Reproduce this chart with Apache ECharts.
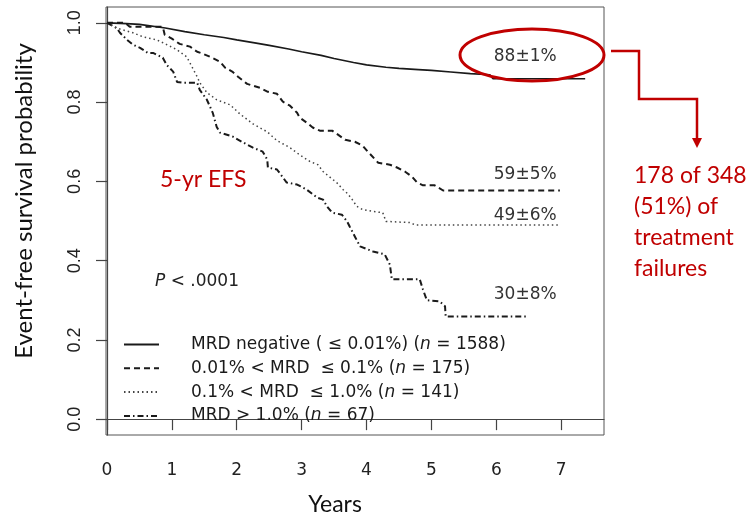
<!DOCTYPE html>
<html>
<head>
<meta charset="utf-8">
<script src="https://cdn.jsdelivr.net/npm/echarts@6/dist/echarts.min.js"></script>
<style>
  html, body { margin: 0; padding: 0; background: #ffffff; }
  #chart { width: 750px; height: 516px; }
</style>
</head>
<body>
<div id="chart"></div>
<script>
// Kaplan-Meier event-free survival by end-of-induction MRD group

const groupNames  = ['MRD negative', '0.01-0.1%', '0.1-1.0%', 'MRD >1.0%'];
const groupRanges = ['MRD negative ( \u2264 0.01%)', '0.01% < MRD  \u2264 0.1%', '0.1% < MRD  \u2264 1.0%', 'MRD > 1.0%'];
const groupN      = [1588, 175, 141, 67];

// 5-year EFS (%) and its standard error
const fiveYearEFS = [88, 59, 49, 30];
const fiveYearSE  = [1, 5, 6, 8];

// survival curves: time in years, probability
const yearsNeg = [0, 0.3, 0.5, 0.9, 1.2, 1.5, 1.8, 2.0, 2.3, 2.5, 2.8, 3.0, 3.3, 3.5, 3.8, 4.0, 4.3, 4.5, 4.8, 5.0, 5.3, 5.6, 5.9, 5.95, 7.37];
const efsNeg   = [1.0, 0.998, 0.996, 0.987, 0.978, 0.970, 0.963, 0.957, 0.949, 0.943, 0.934, 0.927, 0.918, 0.910, 0.900, 0.894, 0.888, 0.885, 0.882, 0.880, 0.876, 0.872, 0.869, 0.859, 0.859];

const yearsLow = [0, 0.28, 0.35, 0.86, 0.89, 1.0, 1.12, 1.28, 1.39, 1.48, 1.62, 1.74, 1.82, 1.93, 2.02, 2.16, 2.36, 2.48, 2.62, 2.71, 2.82, 2.93, 2.97, 3.08, 3.17, 3.28, 3.47, 3.56, 3.67, 3.82, 3.94, 4.02, 4.18, 4.36, 4.47, 4.59, 4.70, 4.78, 4.87, 5.05, 5.18, 6.98];
const efsLow   = [1.0, 1.0, 0.990, 0.990, 0.970, 0.960, 0.947, 0.940, 0.927, 0.922, 0.912, 0.902, 0.887, 0.877, 0.864, 0.846, 0.836, 0.826, 0.821, 0.801, 0.791, 0.773, 0.761, 0.748, 0.736, 0.728, 0.728, 0.718, 0.705, 0.700, 0.690, 0.675, 0.647, 0.642, 0.635, 0.625, 0.612, 0.597, 0.590, 0.590, 0.577, 0.577];

const yearsMid = [0, 0.15, 0.25, 0.40, 0.55, 0.77, 0.92, 1.08, 1.23, 1.31, 1.39, 1.43, 1.54, 1.69, 1.90, 2.05, 2.25, 2.47, 2.62, 2.82, 2.97, 3.13, 3.25, 3.33, 3.44, 3.54, 3.64, 3.71, 3.78, 3.85, 3.94, 4.10, 4.25, 4.30, 4.67, 4.75, 6.98];
const efsMid   = [1.0, 0.987, 0.982, 0.975, 0.965, 0.957, 0.945, 0.932, 0.914, 0.889, 0.864, 0.849, 0.824, 0.806, 0.793, 0.770, 0.745, 0.725, 0.703, 0.685, 0.667, 0.650, 0.642, 0.625, 0.610, 0.597, 0.579, 0.569, 0.554, 0.537, 0.529, 0.524, 0.521, 0.499, 0.496, 0.490, 0.490];

const yearsHigh = [0, 0.15, 0.2, 0.31, 0.40, 0.51, 0.63, 0.71, 0.86, 0.92, 1.02, 1.08, 1.17, 1.39, 1.43, 1.54, 1.63, 1.69, 1.74, 1.94, 2.10, 2.25, 2.40, 2.47, 2.48, 2.62, 2.77, 2.93, 3.08, 3.24, 3.33, 3.39, 3.47, 3.62, 3.70, 3.74, 3.82, 3.90, 4.10, 4.28, 4.36, 4.39, 4.82, 4.87, 4.93, 5.13, 5.21, 5.22, 6.47];
const efsHigh   = [1.0, 0.987, 0.975, 0.957, 0.945, 0.937, 0.924, 0.924, 0.912, 0.894, 0.877, 0.851, 0.849, 0.849, 0.831, 0.806, 0.773, 0.738, 0.723, 0.713, 0.698, 0.685, 0.675, 0.655, 0.635, 0.630, 0.597, 0.592, 0.579, 0.559, 0.554, 0.537, 0.521, 0.516, 0.499, 0.486, 0.461, 0.436, 0.423, 0.416, 0.390, 0.353, 0.353, 0.327, 0.300, 0.297, 0.285, 0.259, 0.259];

// axis ticks
const xTicks = [0, 1, 2, 3, 4, 5, 6, 7];
const yTicks = [0, 0.2, 0.4, 0.6, 0.8, 1.0];

const curveYears = [yearsNeg, yearsLow, yearsMid, yearsHigh];
const curveEFS   = [efsNeg, efsLow, efsMid, efsHigh];

const RFONT = '"DejaVu Sans", sans-serif';
const TFONT = 'Lato, "Open Sans", sans-serif';
const RED = '#C00000';
const INK = '#1a1a1a';

const lineStyles = [
  { color: INK, width: 1.7, type: 'solid' },
  { color: INK, width: 2, type: [6, 4] },
  { color: '#444', width: 1.5, type: [1.5, 3] },
  { color: INK, width: 2, type: [6, 3, 1.5, 3] }
];

const chart = echarts.init(document.getElementById('chart'), null, { renderer: 'canvas' });

const series = groupNames.map((name, k) => ({
  name: name,
  type: 'line',
  symbol: 'none',
  animation: false,
  lineStyle: lineStyles[k],
  itemStyle: { color: lineStyles[k].color },
  data: curveYears[k].map((t, i) => [t, curveEFS[k][i]]),
  z: 4 - k
}));

const option = {
  animation: false,
  backgroundColor: '#ffffff',
  grid: {
    left: 106, top: 7, width: 498, height: 428,
    show: true, borderColor: '#555', borderWidth: 1, backgroundColor: 'transparent'
  },
  xAxis: {
    type: 'value', min: -0.015, max: 7.66,
    axisLine: { show: true, lineStyle: { color: '#444', width: 1.2 } },
    axisTick: { show: true, customValues: xTicks, length: 11, lineStyle: { color: '#444', width: 1.2 } },
    axisLabel: { customValues: xTicks, margin: 27, fontSize: 17, color: '#222', fontFamily: RFONT },
    splitLine: { show: false }
  },
  yAxis: {
    type: 'value', min: -0.04, max: 1.04,
    axisLine: { show: true, lineStyle: { color: '#444', width: 1.2 } },
    axisTick: { show: true, customValues: yTicks, length: 11, lineStyle: { color: '#444', width: 1.2 } },
    axisLabel: {
      customValues: yTicks, rotate: 90, margin: 22, fontSize: 18, color: '#222',
      fontFamily: '"Liberation Sans", Arial, sans-serif',
      formatter: v => v.toFixed(1)
    },
    splitLine: { show: false }
  },
  legend: {
    orient: 'vertical', left: 123, top: 336, padding: 0,
    itemWidth: 35, itemHeight: 14, itemGap: 6.8,
    selectedMode: false,
    data: groupNames,
    itemStyle: { color: 'transparent', borderColor: 'transparent', borderWidth: 0, opacity: 0 },
    formatter: name => {
      const k = groupNames.indexOf(name);
      return '{s|}' + groupRanges[k] + ' ({i|n} = ' + groupN[k] + ')';
    },
    textStyle: {
      fontFamily: RFONT, fontSize: 17, color: '#1a1a1a',
      rich: {
        s: { width: 27 },
        i: { fontStyle: 'italic', fontFamily: RFONT, fontSize: 17, color: '#1a1a1a' }
      }
    }
  },
  series: series
};

chart.setOption(option);

// value labels at the 5-year mark, anchored near the right end of each curve
const labelAnchors = [[6.93, 0.914], [6.93, 0.617], [6.93, 0.514], [6.93, 0.315]];
const valueLabels = labelAnchors.map((a, k) => {
  const p = chart.convertToPixel({ gridIndex: 0 }, a);
  return {
    type: 'text', x: p[0], y: p[1], z: 10,
    style: {
      text: fiveYearEFS[k] + '\u00b1' + fiveYearSE[k] + '%',
      fill: '#333', font: '17px ' + RFONT, align: 'right', verticalAlign: 'middle'
    }
  };
});

chart.setOption({
  graphic: valueLabels.concat([
    {
      type: 'text', x: 155, y: 282, z: 10,
      style: {
        text: '{i|P} < .0001', fill: '#222', font: '17px ' + RFONT, verticalAlign: 'middle',
        rich: { i: { fontStyle: 'italic', fontFamily: RFONT, fontSize: 17, fill: '#222' } }
      }
    },
    {
      type: 'text', x: 24, y: 201, rotation: Math.PI / 2, z: 10,
      style: { text: 'Event-free survival probability', fill: '#111', font: '24px ' + TFONT, align: 'center', verticalAlign: 'middle' }
    },
    {
      type: 'text', x: 335, y: 505, z: 10,
      style: { text: 'Years', fill: '#111', font: '23px ' + TFONT, align: 'center', verticalAlign: 'middle' }
    },
    {
      type: 'text', x: 160, y: 180, z: 10,
      style: { text: '5-yr EFS', fill: RED, font: '23px ' + TFONT, verticalAlign: 'middle' }
    },
    {
      type: 'ellipse', z: 11,
      shape: { cx: 532, cy: 55, rx: 72, ry: 26 },
      style: { fill: 'none', stroke: RED, lineWidth: 3 }
    },
    {
      type: 'polyline', z: 11,
      shape: { points: [[611, 51], [639, 51], [639, 99], [697, 99], [697, 139]] },
      style: { fill: 'none', stroke: RED, lineWidth: 2.5 }
    },
    {
      type: 'polygon', z: 11,
      shape: { points: [[692, 138], [702, 138], [697, 148]] },
      style: { fill: RED }
    },
    {
      type: 'text', x: 634, y: 160, z: 10,
      style: {
        text: '178 of 348\n(51%) of\ntreatment\nfailures',
        fill: RED, font: '23px ' + TFONT, lineHeight: 31, verticalAlign: 'top'
      }
    }
  ])
});
</script>
</body>
</html>
